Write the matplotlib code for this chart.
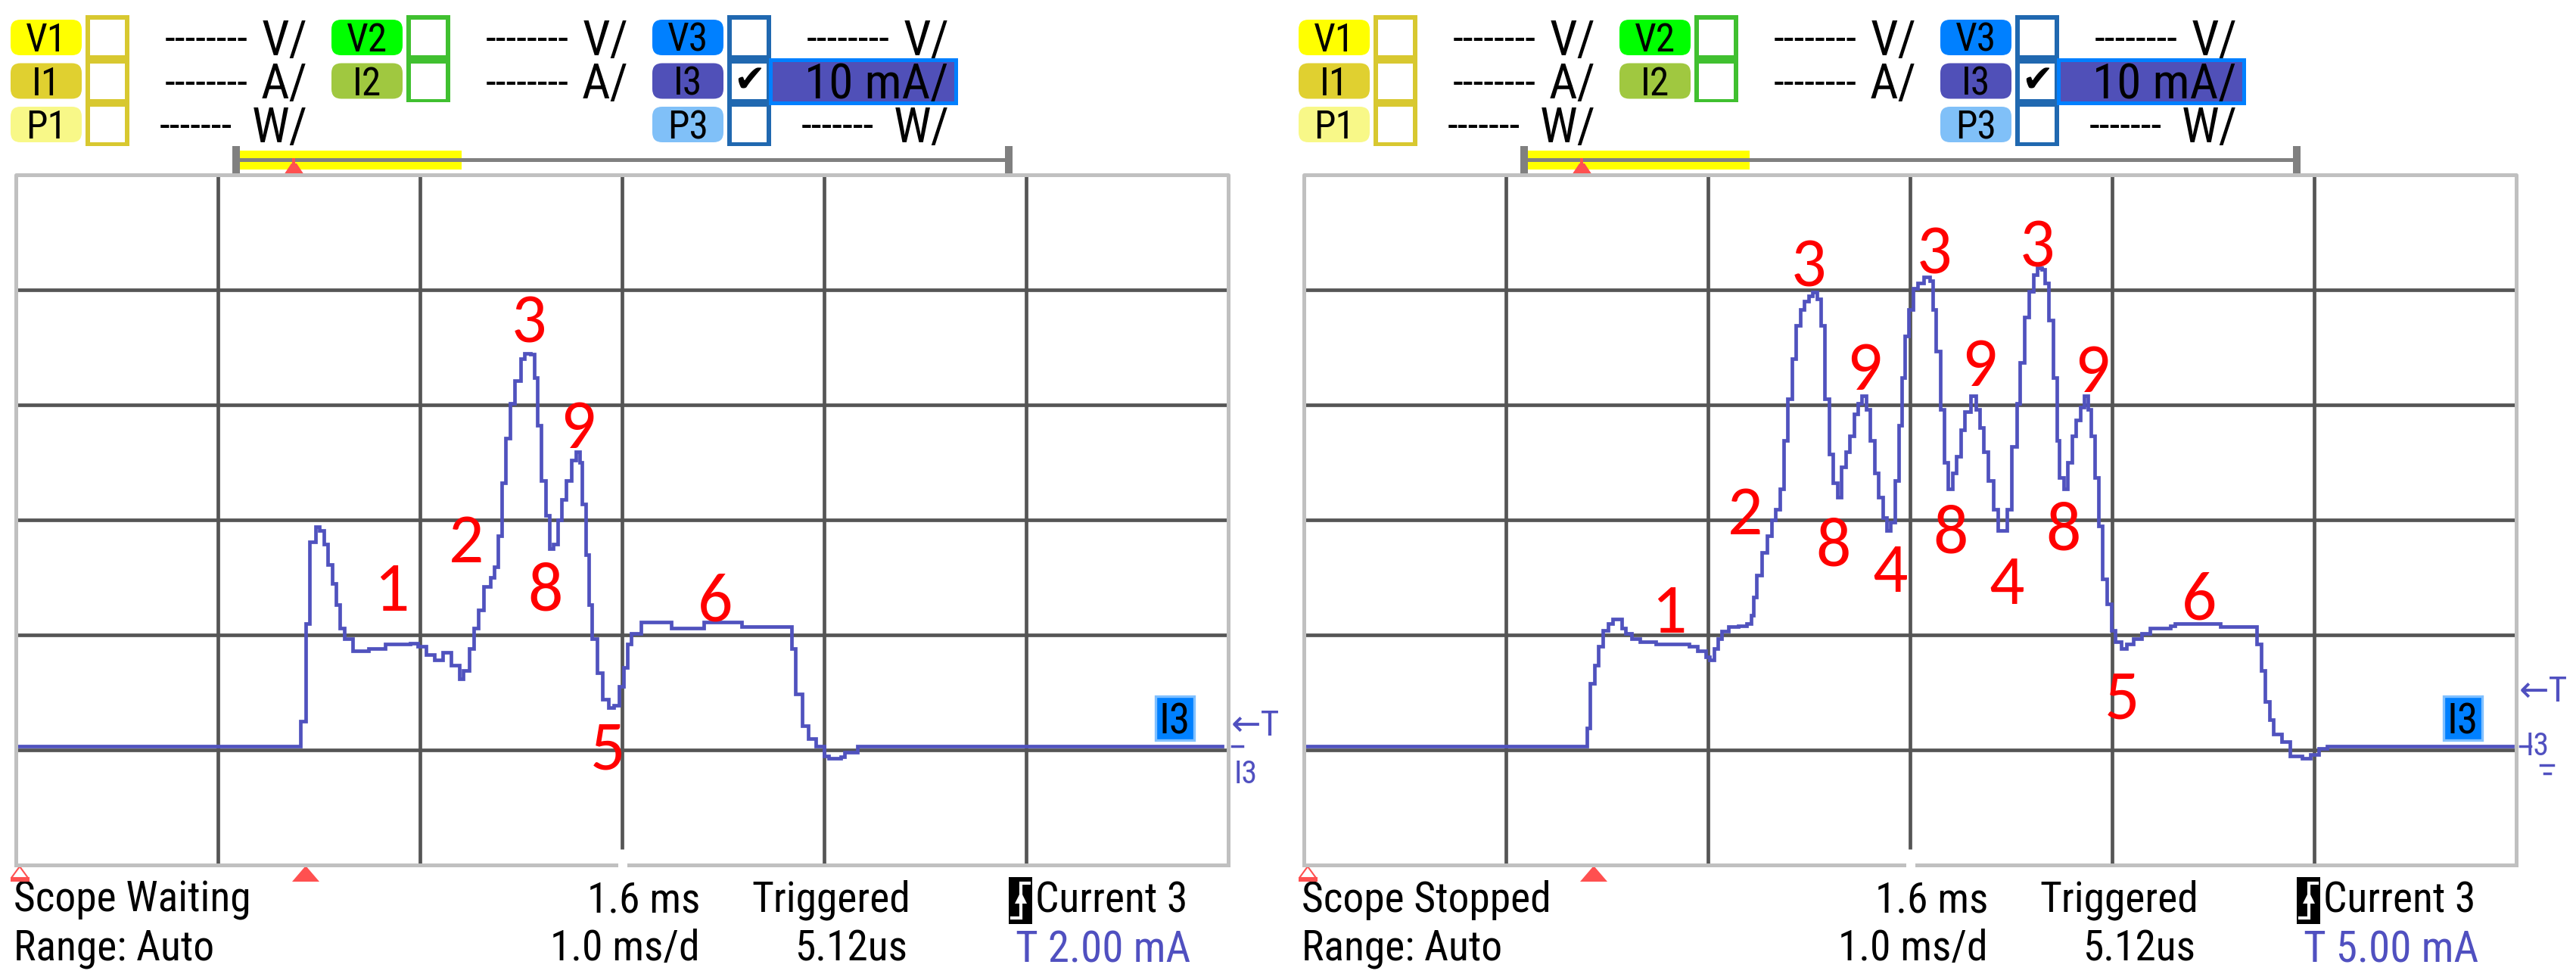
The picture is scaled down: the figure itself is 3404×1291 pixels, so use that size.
import matplotlib
matplotlib.use("Agg")
import matplotlib.pyplot as plt
from matplotlib.patches import Rectangle, FancyBboxPatch, Polygon
import matplotlib.font_manager as fm

# ------------------------------------------------------------------ data
# time in ms (1.0 ms/div, centre of screen = 1.6 ms), current in mA (10 mA/div)
t_left = [-1.40, 0.010, 0.034, 0.054, 0.083, 0.103, 0.123, 0.143, 0.164, 0.184,
          0.204, 0.225, 0.265, 0.347, 0.428, 0.550, 0.590, 0.631, 0.671, 0.712,
          0.753, 0.793, 0.814, 0.842, 0.866, 0.887, 0.915, 0.948, 0.968, 0.984,
          1.005, 1.025, 1.045, 1.070, 1.098, 1.118, 1.147, 1.167, 1.179, 1.200,
          1.220, 1.240, 1.260, 1.281, 1.301, 1.321, 1.350, 1.370, 1.390, 1.403,
          1.419, 1.435, 1.451, 1.476, 1.504, 1.533, 1.557, 1.585, 1.606, 1.626,
          1.646, 1.694, 1.843, 2.005, 2.192, 2.438, 2.459, 2.491, 2.520, 2.560,
          2.601, 2.621, 2.682, 2.702, 2.763, 4.57]
i_left = [0.3, 2.5, 11.0, 18.1, 19.4, 19.1, 17.9, 16.1, 14.5, 12.6,
          10.6, 9.7, 8.6, 8.8, 9.2, 9.3, 9.0, 8.3, 7.8, 8.5,
          7.4, 6.2, 6.9, 8.8, 10.6, 12.2, 14.2, 15.0, 15.9, 18.6,
          23.2, 27.1, 30.1, 32.1, 34.0, 34.5, 34.4, 32.4, 28.2, 23.4,
          20.4, 17.5, 17.9, 20.0, 21.8, 23.4, 25.2, 25.9, 25.0, 21.4,
          17.0, 12.6, 9.7, 6.7, 4.4, 3.7, 3.9, 5.5, 7.2, 9.2,
          10.1, 11.1, 10.6, 11.1, 10.7, 8.8, 4.9, 2.1, 1.0, 0.3,
          -0.5, -0.7, -0.6, -0.2, 0.3, 0.3]

t_right = [-1.40, 0.000, 0.017, 0.038, 0.058, 0.079, 0.107, 0.128, 0.172, 0.193,
           0.221, 0.262, 0.343, 0.506, 0.547, 0.588, 0.608, 0.629, 0.649, 0.669,
           0.702, 0.751, 0.791, 0.812, 0.824, 0.840, 0.865, 0.893, 0.914, 0.934,
           0.954, 0.975, 0.995, 1.016, 1.036, 1.056, 1.077, 1.097, 1.117, 1.138,
           1.158, 1.178, 1.199, 1.219, 1.240, 1.260, 1.280, 1.301, 1.321, 1.341,
           1.362, 1.382, 1.402, 1.423, 1.443, 1.464, 1.484, 1.504, 1.525, 1.545,
           1.557, 1.574, 1.594, 1.614, 1.639, 1.667, 1.696, 1.712, 1.728, 1.749,
           1.769, 1.789, 1.810, 1.830, 1.851, 1.871, 1.899, 1.924, 1.944, 1.964,
           1.985, 2.013, 2.034, 2.079, 2.103, 2.128, 2.144, 2.164, 2.189, 2.209,
           2.230, 2.250, 2.266, 2.286, 2.307, 2.327, 2.339, 2.360, 2.380, 2.400,
           2.421, 2.441, 2.462, 2.482, 2.494, 2.515, 2.531, 2.551, 2.572, 2.596,
           2.616, 2.645, 2.673, 2.706, 2.747, 2.787, 2.889, 2.910, 3.134, 3.317,
           3.337, 3.358, 3.378, 3.398, 3.439, 3.480, 3.541, 3.582, 3.622, 3.663,
           4.58]
i_right = [0.3, 1.9, 5.8, 7.4, 9.0, 10.4, 11.0, 11.4, 10.6, 10.1,
           9.7, 9.4, 9.2, 9.0, 8.6, 8.1, 7.8, 8.8, 9.7, 10.3,
           10.7, 10.8, 11.0, 11.7, 13.3, 15.2, 17.2, 18.6, 20.0, 20.9,
           22.7, 26.9, 30.5, 34.0, 36.9, 38.3, 39.0, 39.5, 39.8, 39.2,
           36.9, 30.5, 25.7, 23.2, 22.0, 24.6, 25.9, 27.3, 29.2, 30.1,
           30.8, 29.6, 26.9, 24.1, 22.0, 20.2, 19.1, 19.8, 23.4, 28.2,
           32.4, 36.0, 38.3, 40.1, 40.6, 41.1, 40.8, 38.3, 34.7, 29.6,
           25.0, 22.7, 24.1, 25.5, 27.8, 29.4, 30.8, 29.6, 28.0, 25.9,
           23.4, 20.9, 19.1, 20.9, 26.4, 30.1, 33.7, 37.6, 39.9, 41.3,
           41.9, 41.8, 40.6, 37.4, 32.4, 26.9, 23.7, 22.7, 25.0, 27.3,
           28.7, 29.8, 30.8, 29.6, 27.3, 23.7, 19.5, 14.9, 12.7, 10.4,
           9.4, 8.8, 9.2, 9.7, 10.1, 10.6, 10.8, 11.0, 10.7, 9.2,
           6.9, 4.2, 2.6, 1.4, 0.7, -0.5, -0.7, -0.4, 0.1, 0.3,
           0.3]

# red annotation numbers (text, time ms, current mA at glyph centre)
lab_left = ['1', '2', '3', '9', '8', '5', '6']
lab_left_t = [0.46, 0.83, 1.14, 1.38, 1.22, 1.53, 2.06]
lab_left_i = [14.3, 18.5, 37.6, 28.4, 14.3, 0.5, 13.4]
lab_right = ['1', '2', '3', '3', '3', '9', '9', '9', '8', '8', '8', '4', '4', '5', '6']
lab_right_t = [0.405, 0.783, 1.097, 1.72, 2.23, 1.374, 1.944, 2.50, 1.22, 1.80, 2.36,
               1.50, 2.08, 2.65, 3.03]
lab_right_i = [12.4, 20.9, 42.5, 43.6, 44.2, 33.5, 33.8, 33.3, 18.2, 19.3, 19.6,
               15.9, 14.9, 4.9, 13.5]

status_text = ['Scope Waiting', 'Scope Stopped']
trigger_mA = [2.00, 5.00]
trigger_text = ['T 2.00 mA', 'T 5.00 mA']
range_text = 'Range: Auto'
delay_text = '1.6 ms'
timebase_text = '1.0 ms/d'
trig_state_text = 'Triggered'
trig_time_text = '5.12us'
source_text = 'Current 3'

x_range = (-1.4, 4.6)
y_range = (-10.0, 50.0)
x_grid = [-0.4, 0.6, 1.6, 2.6, 3.6]
y_grid = [0, 10, 20, 30, 40]

chan_labels = [['V1', 'I1', 'P1'], ['V2', 'I2'], ['V3', 'I3', 'P3']]
chan_units = [['V/', 'A/', 'W/'], ['V/', 'A/'], ['V/', '10 mA/', 'W/']]
chan_colors = [['#FFFF00', '#E0D030', '#F8F888'], ['#00FF00', '#A0C840'],
               ['#0080FF', '#5050B8', '#80C0F8']]
box_colors = ['#D8C830', '#40C030', '#2068B0']

# ------------------------------------------------------------------ fonts
names = {f.name for f in fm.fontManager.ttflist}
NARROW, STRETCH, WF = None, 'normal', 1.0
for n in ['Liberation Sans Narrow', 'Roboto Condensed', 'Open Sans Condensed',
          'Noto Sans Condensed']:
    if n in names:
        NARROW = n
        break
if NARROW is None:
    if any(f.name == 'DejaVu Sans' and 'condensed' in str(f.stretch)
           for f in fm.fontManager.ttflist):
        NARROW, STRETCH = 'DejaVu Sans', 'condensed'
    else:
        NARROW, WF = 'DejaVu Sans', 0.8
FAM = [NARROW, 'DejaVu Sans']
DIGIT_FAM = ['Carlito', 'Lato', 'DejaVu Sans']

W, H = 3405, 1291
fig = plt.figure(figsize=(W / 100, H / 100), dpi=100, facecolor='white')

bg = fig.add_axes([0, 0, 1, 1], zorder=0)
bg.set_xlim(0, W)
bg.set_ylim(H, 0)
bg.axis('off')
ov = fig.add_axes([0, 0, 1, 1], zorder=3)
ov.set_xlim(0, W)
ov.set_ylim(H, 0)
ov.axis('off')
ov.patch.set_alpha(0)


def txt(ax, x, y, s, size, ha='left', va='baseline', color='black', **kw):
    return ax.text(x, y, s, fontsize=size * WF, ha=ha, va=va, color=color,
                   family=FAM, fontstretch=STRETCH, **kw)


PX_L, PX_R, PX_T, PX_B = 21, 1623, 231, 1143
OFFSET = 1702
GRID_C = '#555555'
BORDER_C = '#C0C0C0'
TRACE_C = '#5052BE'
MARK_C = '#5050C0'
RED_MARK = '#FF5050'
px_per_mA = (PX_B - PX_T) / (y_range[1] - y_range[0])


def header(ox):
    for g in range(3):
        n = len(chan_labels[g])
        px = 14 + 424 * g + ox
        cx = 113 + 424 * g + ox
        bg.add_patch(Rectangle((cx, 20), 58, 57.5 * n, fc=box_colors[g], ec='none'))
        for r in range(n):
            top = 26 + 57.5 * r
            bg.add_patch(Rectangle((cx + 6, top), 46, 47, fc='white', ec='none'))
            bg.add_patch(FancyBboxPatch((px, top), 94, 47,
                                        boxstyle='round,pad=0,rounding_size=13',
                                        fc=chan_colors[g][r], ec='none'))
            txt(bg, px + 47, top + 42, chan_labels[g][r], 37, ha='center')
            unit = chan_units[g][r]
            if g == 2 and r == 1:
                bg.add_patch(Rectangle((1018 + ox, 78.5), 245, 57, fc='#5050B8',
                                       ec='#0080FF', lw=3.6))
                txt(bg, 1254 + ox, top + 47, unit, 47, ha='right')
                bg.text(cx + 29, top + 24, '\u2714', fontsize=36, ha='center',
                        va='center', color='black', family='DejaVu Sans')
            else:
                txt(bg, 407 + 424 * g + ox, top + 47, unit, 47, ha='right')
                if r < 2:
                    txt(bg, 328 + 424 * g + ox, top + 43, '--------', 40, ha='right')
                else:
                    txt(bg, 307 + 424 * g + ox, top + 43, '-------', 40, ha='right')
    # memory / position bar
    bg.add_patch(Rectangle((317 + ox, 199), 293, 25, fc='#FFFF00', ec='none'))
    bg.add_patch(Rectangle((317 + ox, 209), 1011, 5, fc='#808080', ec='none'))
    bg.add_patch(Rectangle((307 + ox, 193), 10, 37, fc='#808080', ec='none'))
    bg.add_patch(Rectangle((1328 + ox, 193), 10, 37, fc='#808080', ec='none'))
    bg.add_patch(Polygon([(375 + ox, 231), (402 + ox, 231), (392 + ox, 216),
                          (385 + ox, 216)], closed=True, fc=RED_MARK, ec='none'))
    bg.add_patch(Rectangle((386 + ox, 209), 4, 8, fc=RED_MARK, ec='none'))


def footer(ox, k):
    y1, y2 = 1205, 1269
    fs = 40
    txt(bg, 18 + ox, y1, status_text[k], fs)
    txt(bg, 18 + ox, y2, range_text, fs)
    txt(bg, 925 + ox, y1, delay_text, fs, ha='right')
    txt(bg, 925 + ox, y2, timebase_text, fs, ha='right')
    txt(bg, 1203 + ox, y1, trig_state_text, fs, ha='right')
    txt(bg, 1199 + ox, y2, trig_time_text, fs, ha='right')
    txt(bg, 1368 + ox, y1, source_text, fs)
    txt(bg, 1342 + ox, y2 + 2, trigger_text[k], 41, color=MARK_C)
    # trigger-edge icon
    bg.add_patch(Rectangle((1333 + ox, 1159), 31, 62, fc='black', ec='none'))
    bg.plot([1337 + ox, 1349 + ox, 1349 + ox, 1360 + ox], [1213, 1213, 1167, 1167],
            color='white', lw=3, solid_joinstyle='miter')
    bg.add_patch(Polygon([(1341 + ox, 1194), (1357 + ox, 1194), (1349 + ox, 1178)],
                         closed=True, fc='white', ec='none'))


def panel(ox, k, t, i, labs, lt, li):
    ax = fig.add_axes([(PX_L + ox) / W, (H - PX_B) / H, (PX_R - PX_L) / W,
                       (PX_B - PX_T) / H], zorder=2)
    ax.set_facecolor('none')
    ax.set_xlim(*x_range)
    ax.set_ylim(*y_range)
    ax.axis('off')
    gap = 21 / px_per_mA
    for xg in x_grid:
        y0 = y_range[0] + gap if xg == 1.6 else y_range[0]
        ax.plot([xg, xg], [y0, y_range[1]], color=GRID_C, lw=3.4, zorder=1,
                solid_capstyle='butt')
    for yg in y_grid:
        ax.plot(list(x_range), [yg, yg], color=GRID_C, lw=3.4, zorder=1,
                solid_capstyle='butt')
    ax.plot(t, i, drawstyle='steps-post', color=TRACE_C, lw=3.4, zorder=4,
            solid_joinstyle='miter')
    half = 33 / px_per_mA
    for s, xt, yt in zip(labs, lt, li):
        ax.text(xt, yt - half, s, color='#FF0000', fontsize=66, ha='center',
                va='baseline', family=DIGIT_FAM, zorder=6)
    # border (with centre notch at bottom)
    bl = dict(color=BORDER_C, lw=3.6, clip_on=False, zorder=5, solid_capstyle='projecting')
    ov.plot([PX_L + ox, PX_L + ox, PX_R + ox, PX_R + ox], [PX_B, PX_T, PX_T, PX_B], **bl)
    ov.plot([PX_L + ox, 814 + ox], [PX_B, PX_B], **bl)
    ov.plot([831 + ox, PX_R + ox], [PX_B, PX_B], **bl)
    # channel tag
    ov.add_patch(Rectangle((1527 + ox, 920), 51, 58, fc='#0080FF', ec='#80C0FF', lw=2.4))
    txt(ov, 1552 + ox, 970, 'I3', 40, ha='center')
    # trigger level marker
    ty = PX_B - (trigger_mA[k] + 0.35 - y_range[0]) * px_per_mA
    txt(ov, 1627 + ox, ty + 17, '\u2190T', 34, color=MARK_C)
    # zero marker
    zy = PX_B - (0.3 - y_range[0]) * px_per_mA
    ov.plot([1628 + ox, 1642 + ox], [zy, zy], color=MARK_C, lw=2.5)
    if k == 0:
        txt(ov, 1631 + ox, 1035, 'I3', 30, color=MARK_C)
    else:
        txt(ov, 1636 + ox, 998, 'I3', 30, color=MARK_C)
        ov.plot([1655 + ox, 1672 + ox], [1011, 1011], color=MARK_C, lw=2.5)
        ov.plot([1660 + ox, 1668 + ox], [1022, 1022], color=MARK_C, lw=2.5)
    # bottom trigger-position marker and corner marker
    ov.add_patch(Polygon([(386 + ox, 1165), (422 + ox, 1165), (404 + ox, 1144)],
                         closed=True, fc=RED_MARK, ec='none'))
    ov.add_patch(Polygon([(15 + ox, 1160), (37 + ox, 1160), (26 + ox, 1145)],
                         closed=True, fill=False, ec=RED_MARK, lw=1.5))
    ov.add_patch(Rectangle((14 + ox, 1159), 25, 6, fc=RED_MARK, ec='none'))


for k, (ox, t, i, labs, lt, li) in enumerate([
        (0, t_left, i_left, lab_left, lab_left_t, lab_left_i),
        (OFFSET, t_right, i_right, lab_right, lab_right_t, lab_right_i)]):
    header(ox)
    footer(ox, k)
    panel(ox, k, t, i, labs, lt, li)

fig.savefig('out.png', dpi=100, facecolor='white')
